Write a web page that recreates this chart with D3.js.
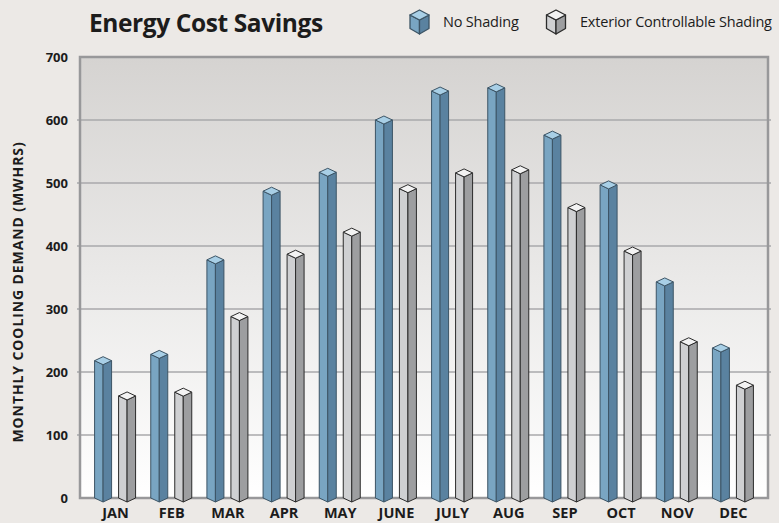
<!DOCTYPE html>
<html>
<head>
<meta charset="utf-8">
<script src="https://cdn.jsdelivr.net/npm/d3@7"></script>
<style>
  html, body { margin: 0; padding: 0; background: #ece9e6; }
  svg text { font-family: "Open Sans", sans-serif; fill: #1c1c1c; }
</style>
</head>
<body>
<div id="chart"></div>
<script>
const months = ["JAN", "FEB", "MAR", "APR", "MAY", "JUNE", "JULY", "AUG", "SEP", "OCT", "NOV", "DEC"];
const noShading = [218, 228, 378, 487, 517, 600, 646, 651, 576, 497, 343, 238];
const exteriorShading = [162, 168, 288, 387, 422, 491, 516, 521, 461, 392, 248, 179];
const yTicks = [0, 100, 200, 300, 400, 500, 600, 700];
const seriesNames = ["No Shading", "Exterior Controllable Shading"];

const width = 779, height = 523;
const plot = { left: 80, right: 768, top: 57, bottom: 498 };

const svg = d3.select("#chart").append("svg")
    .attr("width", width)
    .attr("height", height);

const defs = svg.append("defs");
const grad = defs.append("linearGradient")
    .attr("id", "bg").attr("x1", 0).attr("y1", 0).attr("x2", 0).attr("y2", 1);
grad.append("stop").attr("offset", "0%").attr("stop-color", "#d5d3d1");
grad.append("stop").attr("offset", "100%").attr("stop-color", "#ffffff");

const y = d3.scaleLinear().domain([0, 700]).range([plot.bottom, plot.top]);
const x = d3.scaleBand().domain(months).range([87, 761]);
const xs = d3.scaleOrdinal().domain(seriesNames).range([-20.5, 3.5]);
const barW = 17;

// plot background
svg.append("rect")
    .attr("x", plot.left).attr("y", plot.top)
    .attr("width", plot.right - plot.left).attr("height", plot.bottom - plot.top)
    .attr("fill", "url(#bg)");

// grid lines
svg.append("g").selectAll("line")
    .data(yTicks.filter(d => d > 0 && d < 700))
    .join("line")
    .attr("x1", plot.left - 3).attr("x2", plot.right + 3)
    .attr("y1", d => y(d)).attr("y2", d => y(d))
    .attr("stroke", "#a9a9ab").attr("stroke-width", 1.5);

// border
svg.append("rect")
    .attr("x", plot.left).attr("y", plot.top)
    .attr("width", plot.right - plot.left).attr("height", plot.bottom - plot.top)
    .attr("fill", "none").attr("stroke", "#98989a").attr("stroke-width", 2.5);

// y tick labels
svg.append("g").selectAll("text")
    .data(yTicks)
    .join("text")
    .attr("x", 68).attr("y", d => y(d) + 4.5)
    .attr("text-anchor", "end")
    .attr("font-size", 13).attr("font-weight", 700)
    .text(d => d);

// x labels
svg.append("g").selectAll("text")
    .data(months)
    .join("text")
    .attr("x", d => x(d) + x.bandwidth() / 2 + 0.5)
    .attr("y", 518)
    .attr("text-anchor", "middle")
    .attr("font-size", 14.5).attr("font-weight", 700)
    .text(d => d);

// y axis title
svg.append("text")
    .attr("transform", `translate(23, 292) rotate(-90)`)
    .attr("text-anchor", "middle")
    .attr("font-size", 14).attr("font-weight", 700)
    .attr("letter-spacing", 0.9)
    .text("MONTHLY COOLING DEMAND (MWHRS)");

// title
svg.append("text")
    .attr("x", 89).attr("y", 32)
    .attr("font-size", 24.5).attr("font-weight", 700)
    .attr("letter-spacing", -0.4)
    .text("Energy Cost Savings");

const palette = {
    "No Shading": { left: "#79a5c2", right: "#5a82a0", top: "#a8cfe6", stroke: "#3c5465" },
    "Exterior Controllable Shading": { left: "#cfd0d2", right: "#9d9ea0", top: "#f3f3f3", stroke: "#2b2b2b" }
};

function prism(g, x0, yTop, w, y0, c) {
    const xm = x0 + w / 2, x1 = x0 + w, d = 4;
    g.append("polygon")
        .attr("points", [[x0, yTop], [xm, yTop + d], [xm, y0 + d], [x0, y0]].join(" "))
        .attr("fill", c.left).attr("stroke", c.stroke).attr("stroke-width", 1).attr("stroke-linejoin", "round");
    g.append("polygon")
        .attr("points", [[xm, yTop + d], [x1, yTop], [x1, y0], [xm, y0 + d]].join(" "))
        .attr("fill", c.right).attr("stroke", c.stroke).attr("stroke-width", 1).attr("stroke-linejoin", "round");
    g.append("polygon")
        .attr("points", [[x0, yTop], [xm, yTop - d], [x1, yTop], [xm, yTop + d]].join(" "))
        .attr("fill", c.top).attr("stroke", c.stroke).attr("stroke-width", 1).attr("stroke-linejoin", "round");
}

const bars = svg.append("g");
months.forEach((m, i) => {
    const cx = x(m) + x.bandwidth() / 2;
    [[seriesNames[0], noShading[i]], [seriesNames[1], exteriorShading[i]]].forEach(([s, v]) => {
        prism(bars, cx + xs(s), y(v), barW, plot.bottom, palette[s]);
    });
});

// legend cubes
function cube(g, cx, cy, c) {
    const r = 9.5, h = 5;
    const pts = (arr) => arr.join(" ");
    g.append("polygon")
        .attr("points", pts([[cx - r, cy - h], [cx, cy], [cx, cy + 2 * r - h], [cx - r, cy + r - 1]]))
        .attr("fill", c.left).attr("stroke", c.stroke).attr("stroke-width", 1.3).attr("stroke-linejoin", "round");
    g.append("polygon")
        .attr("points", pts([[cx, cy], [cx + r, cy - h], [cx + r, cy + r - 1], [cx, cy + 2 * r - h]]))
        .attr("fill", c.right).attr("stroke", c.stroke).attr("stroke-width", 1.3).attr("stroke-linejoin", "round");
    g.append("polygon")
        .attr("points", pts([[cx - r, cy - h], [cx, cy - 2 * h], [cx + r, cy - h], [cx, cy]]))
        .attr("fill", c.top).attr("stroke", c.stroke).attr("stroke-width", 1.3).attr("stroke-linejoin", "round");
}

const legend = svg.append("g");
const legendX = [419.5, 556];
const legendTextX = [443, 580];
seriesNames.forEach((s, i) => {
    cube(legend, legendX[i], 20, palette[s]);
    legend.append("text")
        .attr("x", legendTextX[i]).attr("y", 27)
        .attr("font-size", 14.5)
        .attr("letter-spacing", -0.2)
        .text(s);
});
</script>
</body>
</html>
